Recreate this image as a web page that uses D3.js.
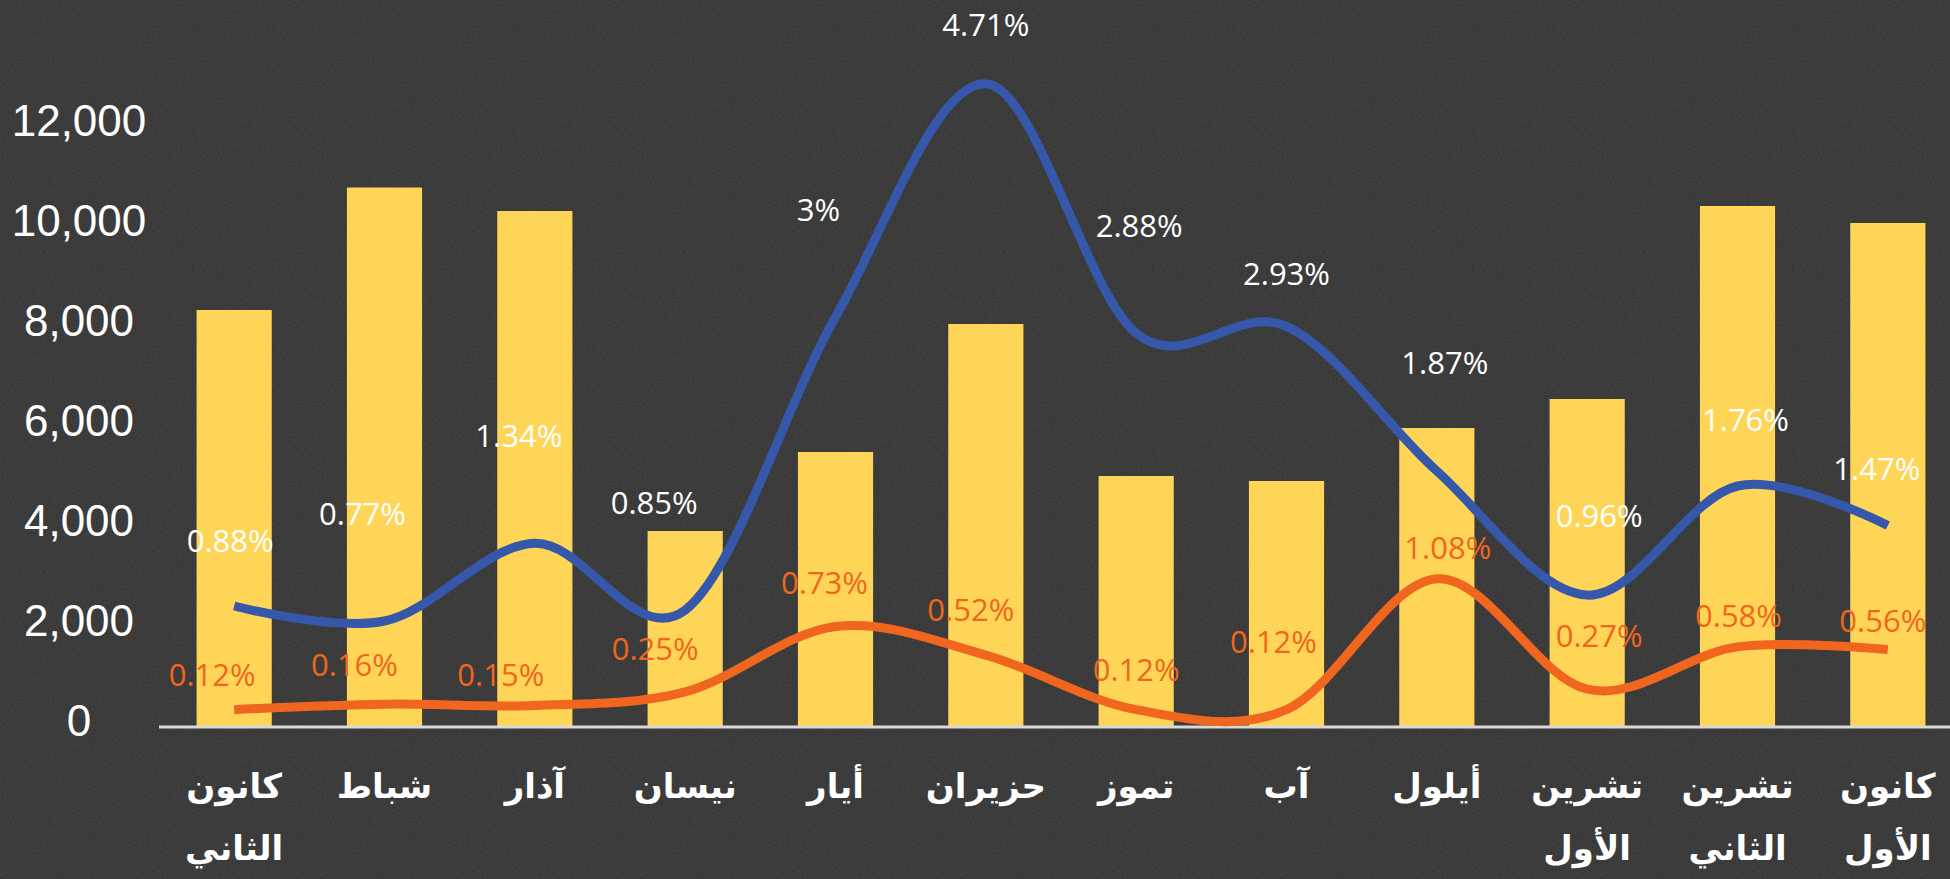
<!DOCTYPE html>
<html>
<head>
<meta charset="utf-8">
<script src="https://cdn.jsdelivr.net/npm/d3@7"></script>
<style>
  body { margin: 0; background: #2f2f2f; overflow: hidden; }
</style>
</head>
<body>
<div id="chart"></div>
<script>
// months (Levantine names), bar values and the two percentage series
const months = ["كانون الثاني", "شباط", "آذار", "نيسان", "أيار", "حزيران", "تموز", "آب", "أيلول", "تشرين الأول", "تشرين الثاني", "كانون الأول"];
const barValues = [8320, 10770, 10300, 3900, 5480, 8040, 5000, 4900, 5960, 6540, 10400, 10060];
const bluePct = [0.88, 0.77, 1.34, 0.85, 3, 4.71, 2.88, 2.93, 1.87, 0.96, 1.76, 1.47];
const orangePct = [0.12, 0.16, 0.15, 0.25, 0.73, 0.52, 0.12, 0.12, 1.08, 0.27, 0.58, 0.56];
const yTicks = [0, 2000, 4000, 6000, 8000, 10000, 12000];

// label nudges (label centre relative to its point), as placed in the original
const blueNudge = [[-4, -66], [-22, -108], [-16, -108], [-31, -108], [-17, -108], [0, -60], [3, -108], [0, -53], [8, -109], [12, -80], [8, -67], [-11, -58]];
const orangeNudge = [[-22, -36], [-30, -40], [-34, -32], [-30, -44], [-11, -44], [-15, -46], [0, -41], [-13, -69], [11, -32], [12, -54], [1, -32], [-5, -30]];

function init() {
  const width = 1950, height = 879;

  const svg = d3.select("#chart")
    .append("svg")
    .attr("width", width)
    .attr("height", height);

  // textured dark background
  const defs = svg.append("defs");
  const f = defs.append("filter").attr("id", "grain")
    .attr("x", 0).attr("y", 0).attr("width", "100%").attr("height", "100%");
  f.append("feTurbulence").attr("type", "fractalNoise")
    .attr("baseFrequency", 0.8).attr("numOctaves", 2).attr("seed", 7);
  f.append("feColorMatrix").attr("type", "saturate").attr("values", 0);

  svg.append("rect").attr("width", width).attr("height", height).attr("fill", "#303030");
  svg.append("rect").attr("width", width).attr("height", height)
    .attr("filter", "url(#grain)").attr("opacity", 0.17);

  const x = d3.scaleBand()
    .domain(months)
    .range([159, 1963])
    .paddingInner(0.5)
    .paddingOuter(0.25);

  const y = d3.scaleLinear().domain([0, 12000]).range([726, 126]);
  const y2 = d3.scaleLinear().domain([0, 4.4]).range([726, 126]);

  // y axis labels
  svg.append("g").selectAll("text")
    .data(yTicks)
    .enter()
    .append("text")
    .attr("x", 79)
    .attr("y", d => y(d) - 6)
    .attr("text-anchor", "middle")
    .attr("dominant-baseline", "central")
    .style("font-family", "'Liberation Sans', Arial, sans-serif")
    .style("font-size", "44px")
    .style("fill", "#ffffff")
    .text(d => d3.format(",")(d));

  // bars
  svg.append("g").selectAll("rect")
    .data(barValues)
    .enter()
    .append("rect")
    .attr("x", (d, i) => x(months[i]))
    .attr("y", d => y(d))
    .attr("width", x.bandwidth())
    .attr("height", d => y(0) - y(d))
    .attr("fill", "#ffd557");

  // axis line
  svg.append("line")
    .attr("x1", x.range()[0]).attr("x2", width)
    .attr("y1", y(0) + 1).attr("y2", y(0) + 1)
    .attr("stroke", "#d9d9d9")
    .attr("stroke-width", 3);

  // category labels, split on the space into two lines
  const cats = svg.append("g").selectAll("text")
    .data(months)
    .enter()
    .append("text")
    .attr("x", d => x(d) + x.bandwidth() / 2)
    .attr("y", 0)
    .attr("text-anchor", "middle")
    .style("font-family", "'DejaVu Sans', sans-serif")
    .style("font-weight", "bold")
    .style("font-size", "34px")
    .style("fill", "#ffffff");
  cats.each(function(d) {
    const words = d.split(" ");
    const t = d3.select(this);
    words.forEach((w, k) => {
      t.append("tspan")
        .attr("x", x(d) + x.bandwidth() / 2)
        .attr("y", 798 + k * 62)
        .text(w);
    });
  });

  const cx = (d, i) => x(months[i]) + x.bandwidth() / 2;

  const line = d3.line()
    .x((d, i) => cx(d, i))
    .y(d => y2(d))
    .curve(d3.curveCardinal.tension(0));

  svg.append("path")
    .datum(orangePct)
    .attr("d", line)
    .attr("fill", "none")
    .attr("stroke", "#f0661f")
    .attr("stroke-width", 9)
    .attr("stroke-linejoin", "round");

  svg.append("path")
    .datum(bluePct)
    .attr("d", line)
    .attr("fill", "none")
    .attr("stroke", "#3558ab")
    .attr("stroke-width", 9)
    .attr("stroke-linejoin", "round");

  // percentage labels
  function labels(series, nudge, color) {
    svg.append("g").selectAll("text")
      .data(series)
      .enter()
      .append("text")
      .attr("x", (d, i) => cx(d, i) + nudge[i][0])
      .attr("y", (d, i) => y2(d) + nudge[i][1])
      .attr("text-anchor", "middle")
      .attr("dominant-baseline", "central")
      .style("font-family", "'Open Sans', sans-serif")
      .style("font-size", "31px")
      .style("fill", color)
      .text(d => d + "%");
  }
  labels(bluePct, blueNudge, "#ffffff");
  labels(orangePct, orangeNudge, "#f0661f");
}

window.onload = init;
</script>
</body>
</html>
